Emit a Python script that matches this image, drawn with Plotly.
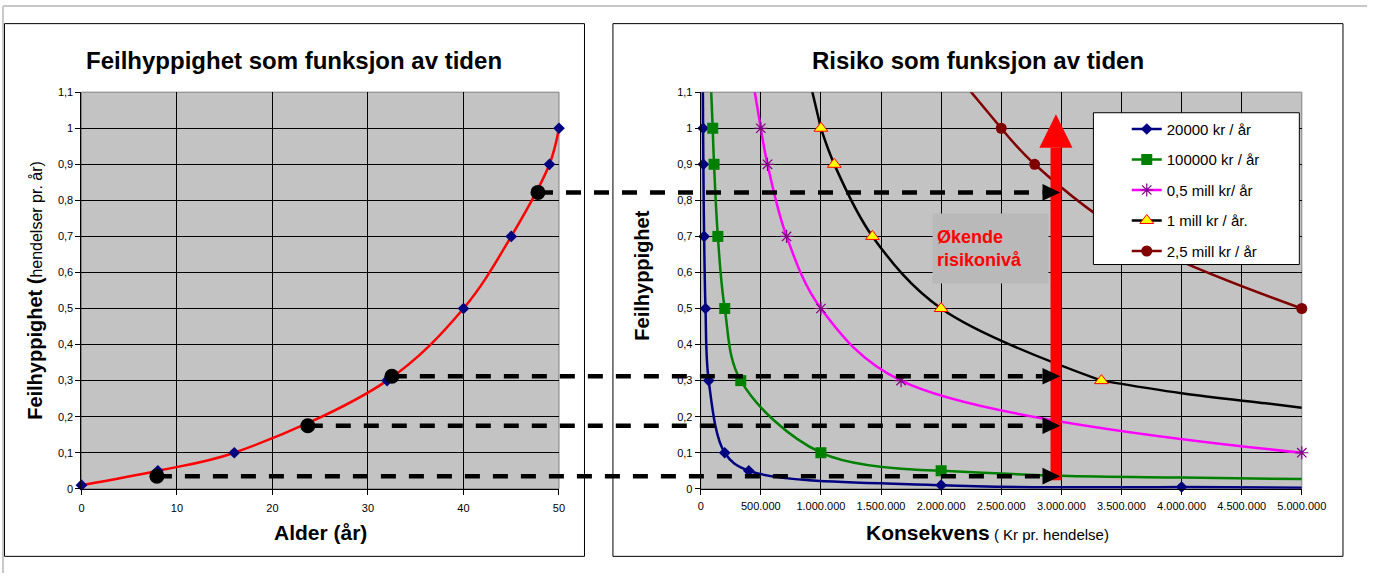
import plotly.graph_objects as go

W, H = 1391, 579
FONT = "Liberation Sans, Arial, sans-serif"

# ---------------- data ----------------
# Left chart: failure frequency vs age
age = [0, 8, 16, 32, 40, 45, 49, 50]
freq = [0.01, 0.05, 0.1, 0.3, 0.5, 0.7, 0.9, 1.0]

# highlighted points (black dots) and their levels carried to the right chart
dot_age = [7.9, 23.7, 32.5, 47.8]
dot_freq = [0.035, 0.175, 0.312, 0.822]

left_xticks = [0, 10, 20, 30, 40, 50]
left_xticktext = ["0", "10", "20", "30", "40", "50"]
y_ticks = [0, 0.1, 0.2, 0.3, 0.4, 0.5, 0.6, 0.7, 0.8, 0.9, 1.0, 1.1]
y_ticktext = ["0", "0,1", "0,2", "0,3", "0,4", "0,5", "0,6", "0,7", "0,8", "0,9", "1", "1,1"]

right_xticks = [0, 500000, 1000000, 1500000, 2000000, 2500000, 3000000,
                3500000, 4000000, 4500000, 5000000]
right_xticktext = ["0", "500.000", "1.000.000", "1.500.000", "2.000.000", "2.500.000",
                   "3.000.000", "3.500.000", "4.000.000", "4.500.000", "5.000.000"]

# Right chart: iso-risk curves (marker points)
series_names = ["20000 kr / år", "100000 kr / år", "0,5 mill kr/ år",
                "1 mill kr / år.", "2,5 mill kr / år"]

s1_x = [20000, 22222, 28571, 40000, 66667, 200000, 400000, 2000000, 4000000]
s1_y = [1.0, 0.9, 0.7, 0.5, 0.3, 0.1, 0.05, 0.01, 0.005]
s2_x = [100000, 111111, 142857, 200000, 333333, 1000000, 2000000]
s2_y = [1.0, 0.9, 0.7, 0.5, 0.3, 0.1, 0.05]
s3_x = [500000, 555556, 714286, 1000000, 1666667, 5000000]
s3_y = [1.0, 0.9, 0.7, 0.5, 0.3, 0.1]
s4_x = [1000000, 1111111, 1428571, 2000000, 3333333]
s4_y = [1.0, 0.9, 0.7, 0.5, 0.3]
s5_x = [2500000, 2777778, 3571429, 5000000]
s5_y = [1.0, 0.9, 0.7, 0.5]

# line-only parts of the curves: entry above the top, tail to the right
head_x = [18000, 85000, 440000, 915000, 2200000]
head_y = [1.12, 1.12, 1.12, 1.12, 1.12]
s1_tail_x = [4000000, 5000000]
s1_tail_y = [0.005, 0.003]
s2_tail_x = [2000000, 3000000, 4000000, 5000000]
s2_tail_y = [0.05, 0.036, 0.031, 0.027]
s4_tail_x = [3333333, 4000000, 4700000, 5000000]
s4_tail_y = [0.3, 0.265, 0.237, 0.225]

# red "increasing risk" arrow and black arrow tips (in right-axis units)
arrow_x = 2955000
arrow_y0 = 0.024
arrow_head_base = 0.946
arrow_tip = 1.039
tip_x = 2990000

# ---------------- styles / geometry ----------------
LX = [80 / W, 567 / W]
RX = [711.5 / W, 1324.5 / W]
YD = [1 - 493 / H, 1 - 88 / H]
LRANGE = [0, 50]
RRANGE = [0, 5000000]
YRANGE = [0, 1.1]
PLOT_BG = "#C3C3C3"

colors = ["#000080", "#008000", "#FF00FF", "#000000", "#800000"]
symbols = ["diamond", "square", "asterisk-open", "triangle-up", "circle"]
msizes = [9, 11, 11, 12, 11]
mcolors = ["#000080", "#008000", "#800080", "#FFFF00", "#800000"]
mlines = [dict(width=0), dict(width=0), dict(color="#800080", width=1.2),
          dict(color="#FF0000", width=1), dict(width=0)]


def py(p):
    return 1 - p / H


def lx(a):
    return LX[0] + (a - LRANGE[0]) / (LRANGE[1] - LRANGE[0]) * (LX[1] - LX[0])


def rx(v):
    return RX[0] + (v - RRANGE[0]) / (RRANGE[1] - RRANGE[0]) * (RX[1] - RX[0])


fig = go.Figure()

# ---- left chart traces ----
fig.add_trace(go.Scatter(x=age, y=freq, mode="lines", line=dict(color="#FF0000", width=2.5, shape="spline"),
                         xaxis="x", yaxis="y", showlegend=False, hoverinfo="skip"))
fig.add_trace(go.Scatter(x=age, y=freq, mode="markers",
                         marker=dict(symbol="diamond", size=9, color="#000080"),
                         xaxis="x", yaxis="y", showlegend=False, cliponaxis=False))
fig.add_trace(go.Scatter(x=dot_age, y=dot_freq, mode="markers",
                         marker=dict(symbol="circle", size=15, color="#000000"),
                         xaxis="x", yaxis="y", showlegend=False, cliponaxis=False))

# ---- right chart traces ----
sx = [s1_x, s2_x, s3_x, s4_x, s5_x]
sy = [s1_y, s2_y, s3_y, s4_y, s5_y]
tails = {0: (s1_tail_x, s1_tail_y), 1: (s2_tail_x, s2_tail_y), 3: (s4_tail_x, s4_tail_y)}
for i in range(5):
    lw = 2.5
    fig.add_trace(go.Scatter(x=[head_x[i], sx[i][0]], y=[head_y[i], sy[i][0]], mode="lines",
                             line=dict(color=colors[i], width=lw), xaxis="x2", yaxis="y2",
                             showlegend=False, hoverinfo="skip"))
    if i in tails:
        tx, ty = tails[i]
        fig.add_trace(go.Scatter(x=tx, y=ty, mode="lines",
                                 line=dict(color=colors[i], width=lw, shape="spline"),
                                 xaxis="x2", yaxis="y2", showlegend=False, hoverinfo="skip"))
    fig.add_trace(go.Scatter(x=sx[i], y=sy[i], mode="lines+markers", name=series_names[i],
                             line=dict(color=colors[i], width=lw, shape="spline"),
                             marker=dict(symbol=symbols[i], size=msizes[i], color=mcolors[i], line=mlines[i]),
                             xaxis="x2", yaxis="y2", legendgroup="g%d" % i, cliponaxis=False))

# ---- axes ----
axis_common = dict(showgrid=True, gridcolor="black", gridwidth=1, zeroline=False,
                   showline=True, linecolor="black", linewidth=1, ticks="outside",
                   ticklen=5, tickcolor="black", tickfont=dict(family=FONT, size=11, color="black"),
                   fixedrange=True)
fig.update_layout(
    xaxis=dict(domain=LX, range=LRANGE, tickmode="array", tickvals=left_xticks, ticktext=left_xticktext,
               anchor="y", ticklabelstandoff=4, **axis_common),
    yaxis=dict(domain=YD, range=YRANGE, tickmode="array", tickvals=y_ticks, ticktext=y_ticktext,
               anchor="x", **axis_common),
    xaxis2=dict(domain=RX, range=RRANGE, tickmode="array", tickvals=right_xticks, ticktext=right_xticktext,
                anchor="y2", ticklabelstandoff=2, **axis_common),
    yaxis2=dict(domain=YD, range=YRANGE, tickmode="array", tickvals=y_ticks, ticktext=y_ticktext,
                anchor="x2", **axis_common),
)

shapes = []
# outer light frame (top and left edges)
shapes.append(dict(type="line", xref="paper", yref="paper", x0=0, x1=1, y0=1, y1=1,
                   line=dict(color="#C8C8C8", width=2), layer="below"))
shapes.append(dict(type="line", xref="paper", yref="paper", x0=0, x1=0, y0=0, y1=1,
                   line=dict(color="#C8C8C8", width=2), layer="below"))
# chart boxes
shapes.append(dict(type="rect", xref="paper", yref="paper", x0=1.5 / W, x1=593 / W, y0=py(562), y1=py(18),
                   line=dict(color="black", width=1), fillcolor="rgba(0,0,0,0)", layer="below"))
shapes.append(dict(type="rect", xref="paper", yref="paper", x0=622 / W, x1=1366.5 / W, y0=py(562), y1=py(18),
                   line=dict(color="black", width=1), fillcolor="rgba(0,0,0,0)", layer="below"))
# plot-area borders (grey)
for xr, yr in (("x domain", "y domain"), ("x2 domain", "y2 domain")):
    shapes.append(dict(type="rect", xref=xr, yref=yr, x0=0, x1=1, y0=0, y1=1,
                       line=dict(color="#808080", width=1), fillcolor="rgba(0,0,0,0)", layer="below"))
# red arrow
bar_half = 45000
head_half = 138000
shapes.append(dict(type="rect", xref="x2", yref="y2", x0=arrow_x - bar_half, x1=arrow_x + bar_half,
                   y0=arrow_y0, y1=arrow_head_base, fillcolor="#FF0000", line=dict(width=0), layer="above"))
shapes.append(dict(type="path", xref="x2", yref="y2",
                   path="M %f,%f L %f,%f L %f,%f Z" % (arrow_x - head_half, arrow_head_base,
                                                       arrow_x + head_half, arrow_head_base,
                                                       arrow_x, arrow_tip),
                   fillcolor="#FF0000", line=dict(width=0), layer="above"))
# dashed connectors and black arrow tips
tip_len = 147000
tip_half = 0.0231
for a, lvl in zip(dot_age, dot_freq):
    shapes.append(dict(type="line", xref="paper", yref="y", x0=lx(a), x1=rx(tip_x - tip_len),
                       y0=lvl, y1=lvl, line=dict(color="black", width=4.5, dash="15px,13px"), layer="above"))
    shapes.append(dict(type="path", xref="x2", yref="y2",
                       path="M %f,%f L %f,%f L %f,%f Z" % (tip_x - tip_len, lvl - tip_half,
                                                           tip_x, lvl,
                                                           tip_x - tip_len, lvl + tip_half),
                       fillcolor="black", line=dict(width=0), layer="above"))
# legend box
shapes.append(dict(type="rect", xref="paper", yref="paper", x0=1112 / W, x1=1322 / W, y0=py(264), y1=py(109),
                   fillcolor="white", line=dict(color="black", width=1), layer="above"))

annotations = [
    dict(text="<b>Feilhyppighet som funksjon av tiden</b>", x=297 / W, y=py(56), xref="paper", yref="paper",
         showarrow=False, xanchor="center", yanchor="middle", font=dict(family=FONT, size=24, color="black")),
    dict(text="<b>Risiko som funksjon av tiden</b>", x=994 / W, y=py(56), xref="paper", yref="paper",
         showarrow=False, xanchor="center", yanchor="middle", font=dict(family=FONT, size=24, color="black")),
    dict(text="<b>Alder (år)</b>", x=323.5 / W, y=py(538), xref="paper", yref="paper",
         showarrow=False, xanchor="center", yanchor="middle", font=dict(family=FONT, size=21, color="black")),
    dict(text="<b>Konsekvens</b><span style='font-size:15px'> ( Kr pr. hendelse)</span>",
         x=1004 / W, y=py(538), xref="paper", yref="paper",
         showarrow=False, xanchor="center", yanchor="middle", font=dict(family=FONT, size=21, color="black")),
    dict(text="<b>Feilhyppighet (</b><span style='font-size:16px'>hendelser pr. år)</span>",
         x=33 / W, y=py(290.5), xref="paper", yref="paper", textangle=-90,
         showarrow=False, xanchor="center", yanchor="middle", font=dict(family=FONT, size=20, color="black")),
    dict(text="<b>Feilhyppighet</b>", x=652 / W, y=py(275), xref="paper", yref="paper", textangle=-90,
         showarrow=False, xanchor="center", yanchor="middle", font=dict(family=FONT, size=20, color="black")),
    dict(text="<b>Økende<br>risikonivå</b>", x=1007.5 / W, y=py(247.5), xref="paper", yref="paper",
         showarrow=False, xanchor="center", yanchor="middle", align="left", width=107, height=61,
         borderpad=4, bgcolor="#B9B9B9", font=dict(family=FONT, size=18, color="#FF0000")),
]

fig.update_layout(
    width=W, height=H, margin=dict(l=0, r=0, t=0, b=0),
    paper_bgcolor="white", plot_bgcolor=PLOT_BG,
    font=dict(family=FONT, size=11, color="black"),
    shapes=shapes, annotations=annotations,
    showlegend=True,
    legend=dict(x=1146 / W, y=py(109), xanchor="left", yanchor="top", bgcolor="rgba(0,0,0,0)",
                borderwidth=0, tracegroupgap=8, font=dict(family=FONT, size=15, color="black"),
                traceorder="grouped"),
    hovermode=False,
)

fig.write_html("out.html", config={"displayModeBar": False, "staticPlot": True},
               post_script="document.body.style.margin='0px';document.body.style.overflow='hidden';")
